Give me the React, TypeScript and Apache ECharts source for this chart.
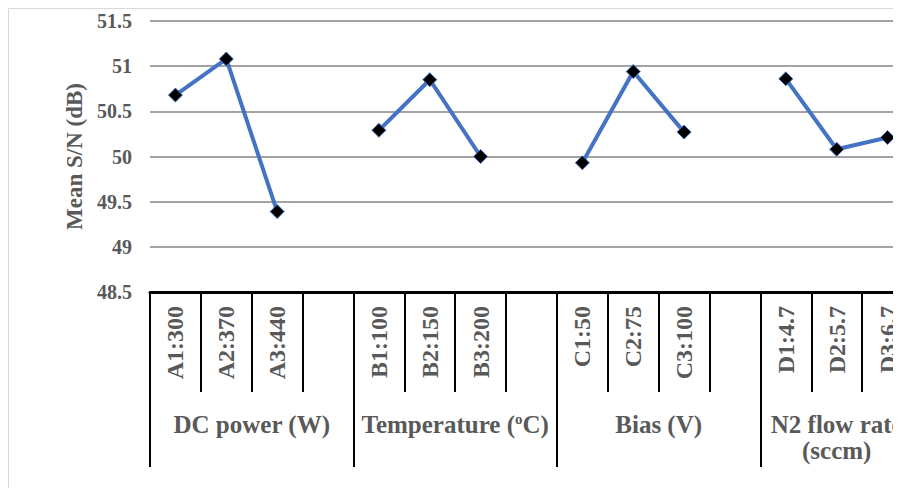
import React, { useEffect, useRef } from 'react';
import * as echarts from 'echarts';

const categories = ['A1:300', 'A2:370', 'A3:440', '', 'B1:100', 'B2:150', 'B3:200', '', 'C1:50', 'C2:75', 'C3:100', '', 'D1:4.7', 'D2:5.7', 'D3:6.7'];
const meanSN = [50.68, 51.08, 49.39, null, 50.29, 50.85, 50.0, null, 49.93, 50.94, 50.27, null, 50.86, 50.08, 50.21];
const groupNames = ['DC power (W)', 'Temperature ({sup|o}C)', 'Bias (V)', 'N2 flow rate\n(sccm)'];
const groupSizes = [4, 4, 4, 3];
const yTicks = { min: 48.5, max: 51.5, interval: 0.5 };

const FONT = 'Liberation Serif';
const TXT = '#595959';

export default function App() {
  const ref = useRef<HTMLDivElement>(null);
  useEffect(() => {
    document.body.style.overflow = 'hidden';
    const chart = echarts.init(ref.current!, null, { renderer: 'svg' });
    const bounds: number[] = [0];
    groupSizes.forEach((s) => bounds.push(bounds[bounds.length - 1] + s));
    const centers = groupSizes.map((s, i) => bounds[i] + s / 2);
    const total = bounds[bounds.length - 1];
    chart.setOption({
      animation: false,
      graphic: [
        {
          type: 'rect',
          shape: { x: 0.5, y: 0.5, width: 3000, height: 3000 },
          style: { fill: 'none', stroke: '#d9d9d9', lineWidth: 1 },
          silent: true,
        },
      ],
      grid: { left: 142, top: 13, width: 763, height: 271 },
      xAxis: [
        {
          type: 'category',
          data: categories,
          boundaryGap: true,
          axisLine: { show: true, lineStyle: { color: '#000', width: 3 } },
          axisTick: { show: true, interval: 0, length: 100, lineStyle: { color: '#000', width: 2 } },
          axisLabel: {
            interval: 0,
            rotate: 90,
            margin: 14,
            fontFamily: FONT,
            fontWeight: 'bold',
            fontSize: 24,
            color: TXT,
          },
          splitLine: { show: false },
          z: 5,
        },
        {
          type: 'value',
          min: 0,
          max: total,
          position: 'bottom',
          axisLine: { show: false },
          axisTick: { show: true, customValues: bounds, length: 175, lineStyle: { color: '#000', width: 2 } },
          axisLabel: {
            customValues: centers,
            margin: 119,
            fontFamily: FONT,
            fontWeight: 'bold',
            fontSize: 25,
            lineHeight: 26,
            color: TXT,
            formatter: (v: number) => {
              const i = centers.findIndex((c) => Math.abs(c - v) < 1e-6);
              return i >= 0 ? groupNames[i] : '';
            },
            rich: {
              sup: { fontFamily: FONT, fontWeight: 'bold', fontSize: 15, color: TXT, verticalAlign: 'top', padding: [0, 0, 10, 0] },
            },
          },
          splitLine: { show: false },
        },
      ],
      yAxis: {
        type: 'value',
        min: yTicks.min,
        max: yTicks.max,
        interval: yTicks.interval,
        name: 'Mean S/N (dB)',
        nameLocation: 'middle',
        nameRotate: 90,
        nameGap: 60,
        nameTextStyle: { fontFamily: FONT, fontWeight: 'bold', fontSize: 23, color: TXT },
        axisLine: { show: false },
        axisTick: { show: false },
        axisLabel: { margin: 18, fontFamily: FONT, fontWeight: 'bold', fontSize: 20, color: TXT },
        splitLine: { show: true, lineStyle: { color: '#a3a3a3', width: 2 } },
      },
      series: [
        {
          type: 'line',
          xAxisIndex: 0,
          data: meanSN,
          connectNulls: false,
          symbol: 'diamond',
          symbolSize: 14,
          lineStyle: { color: '#4472C4', width: 4 },
          itemStyle: { color: '#000', borderColor: '#4472C4', borderWidth: 1 },
          z: 10,
        },
      ],
    });
    return () => chart.dispose();
  }, []);
  return (
    <div style={{ width: 893, height: 480, overflow: 'hidden' }}>
      <div ref={ref} style={{ width: 960, height: 480 }} />
    </div>
  );
}
